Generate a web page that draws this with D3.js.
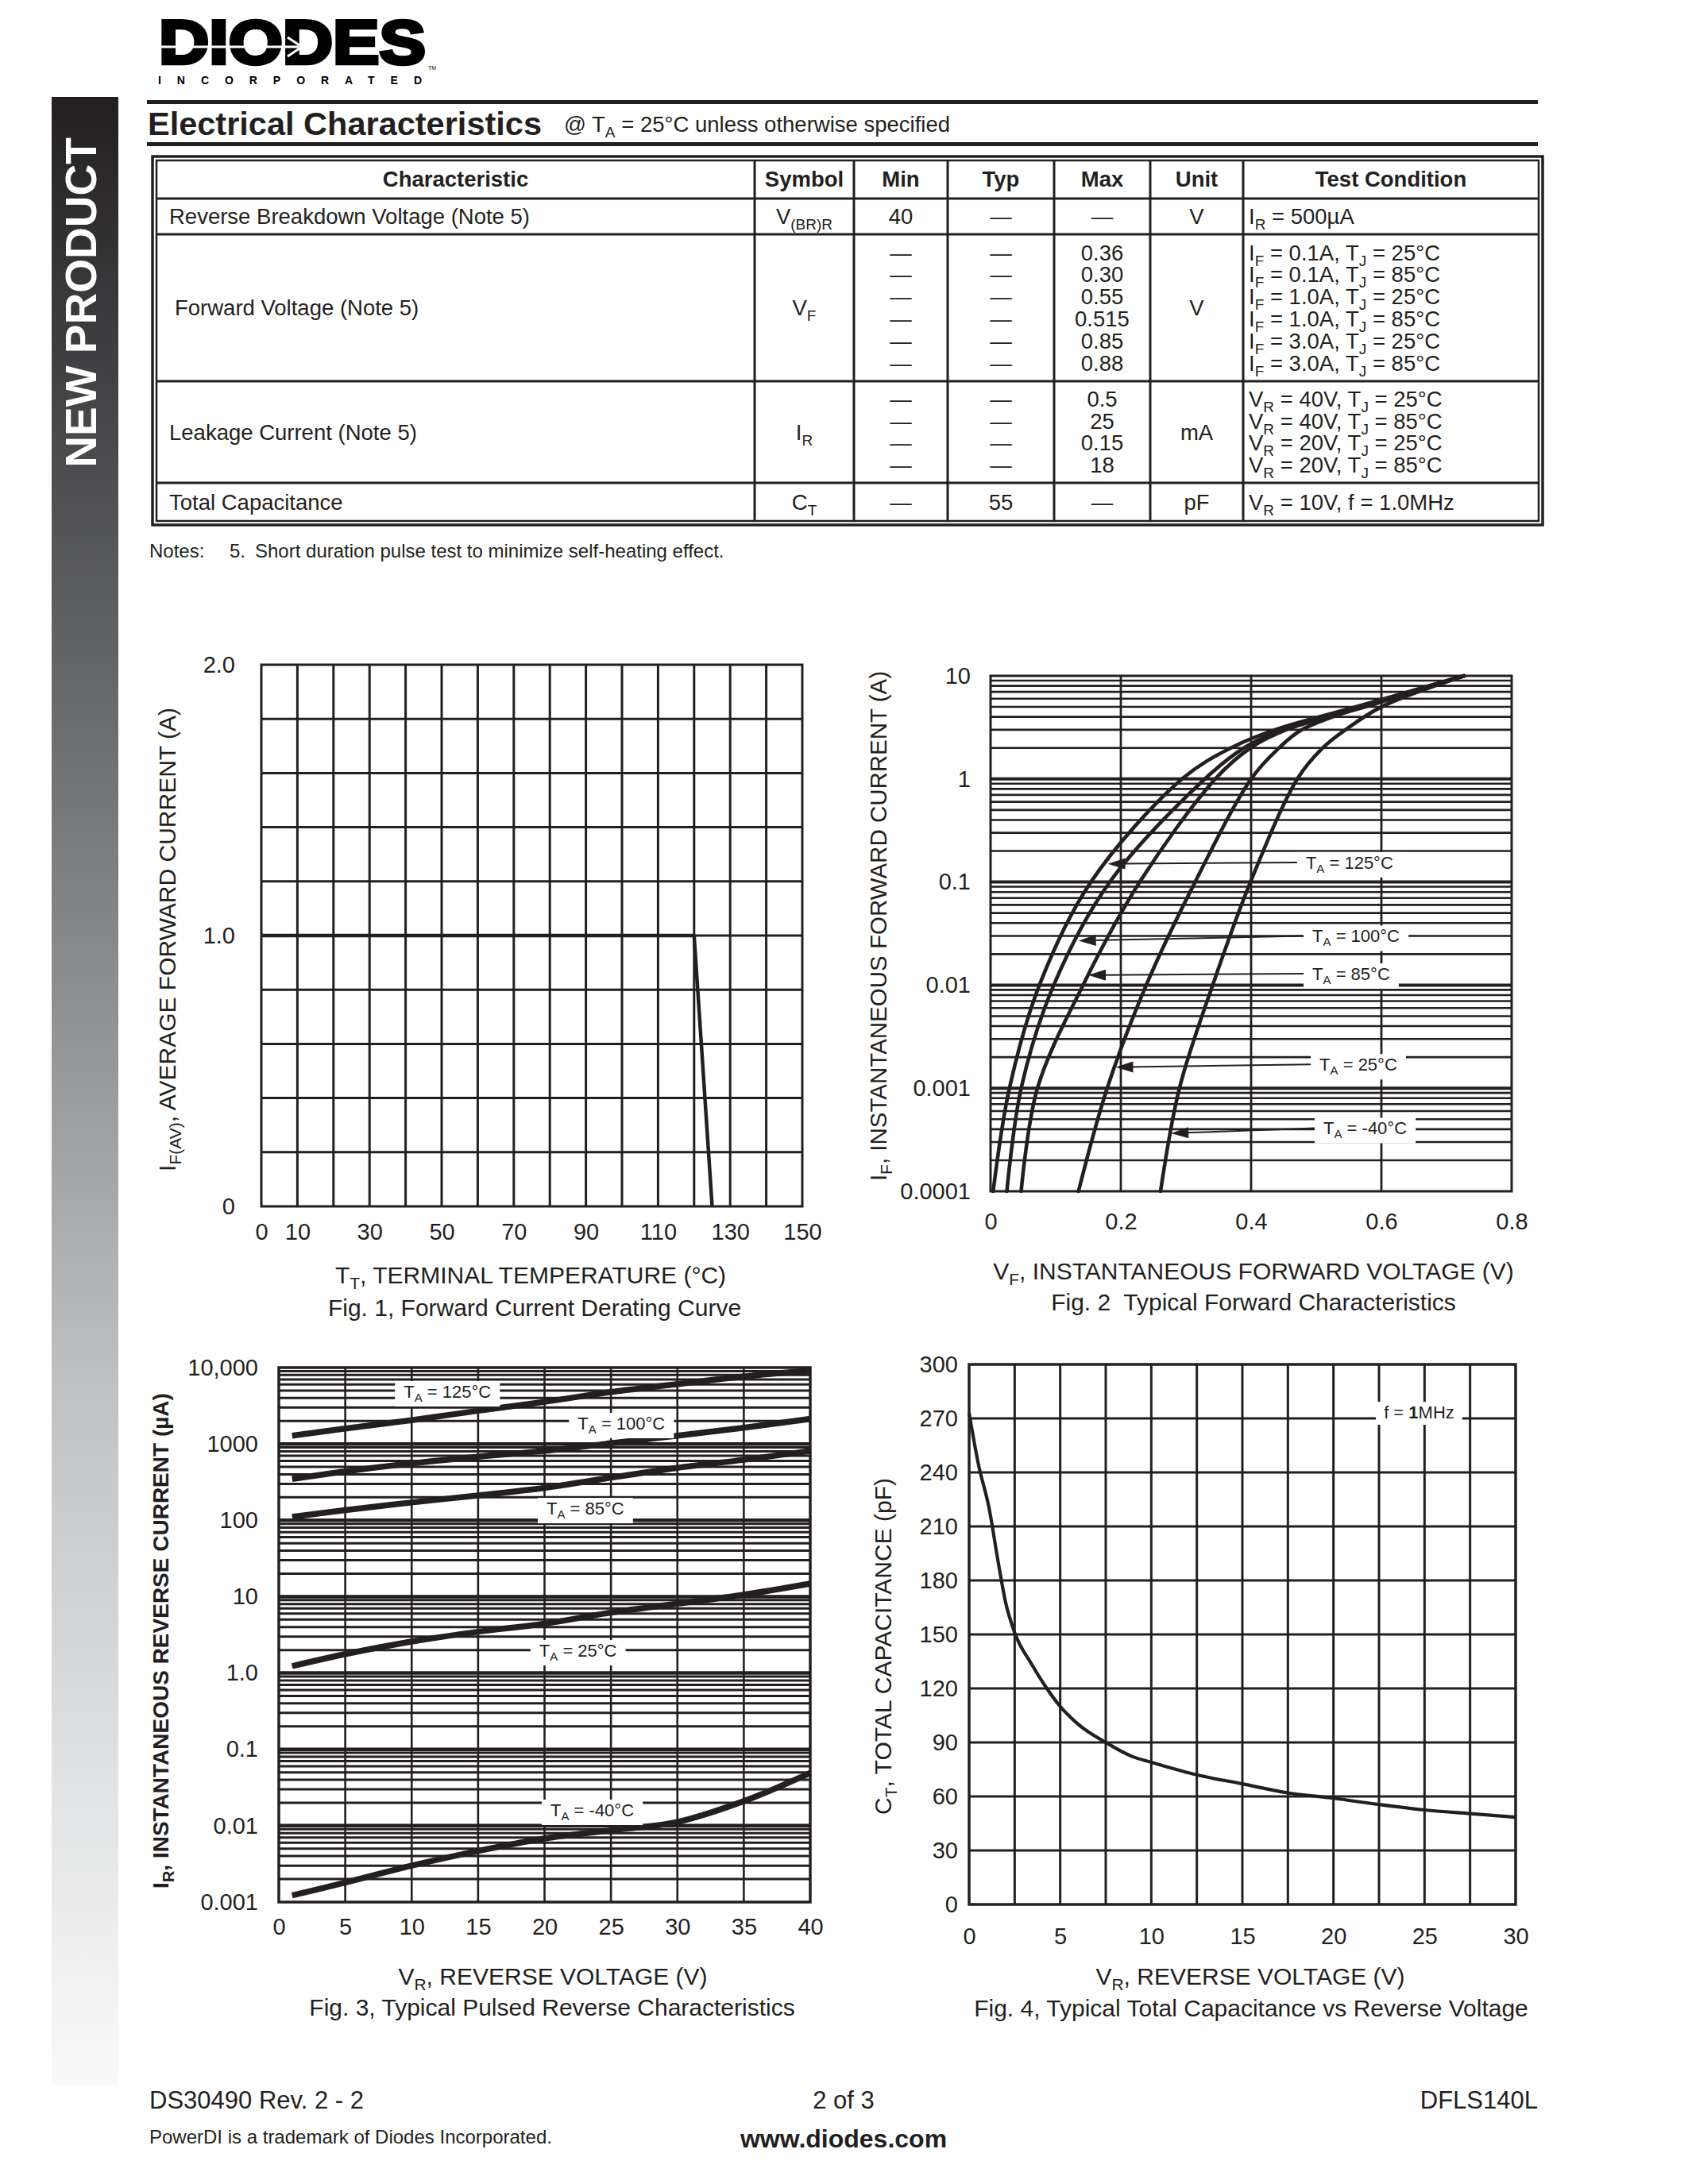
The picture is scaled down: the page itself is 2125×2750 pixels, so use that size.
<!DOCTYPE html>
<html>
<head>
<meta charset="utf-8">
<title>DFLS140L - Electrical Characteristics</title>
<script src="https://d3js.org/d3.v7.min.js"></script>
<style>
body { margin: 0; background: #fff; }
svg { font-family: "Liberation Sans", Arial, Helvetica, sans-serif; }
text { white-space: pre; }
</style>
</head>
<body>
<div id="page"></div>
<script>

/* ---- table data ---- */
var tableHeads = ["Characteristic", "Symbol", "Min", "Typ", "Max", "Unit", "Test Condition"];
var charNames = ["Reverse Breakdown Voltage (Note 5)", "Forward Voltage (Note 5)", "Leakage Current (Note 5)", "Total Capacitance"];
var charSymbols = ["V{(BR)R}", "V{F}", "I{R}", "C{T}"];
var minVals = [["40"], ["—", "—", "—", "—", "—", "—"], ["—", "—", "—", "—"], ["—"]];
var typVals = [["—"], ["—", "—", "—", "—", "—", "—"], ["—", "—", "—", "—"], ["55"]];
var maxVals = [["—"], ["0.36", "0.30", "0.55", "0.515", "0.85", "0.88"], ["0.5", "25", "0.15", "18"], ["—"]];
var units = ["V", "V", "mA", "pF"];
var testConds = [
  ["I{R} = 500µA"],
  ["I{F} = 0.1A, T{J} = 25°C", "I{F} = 0.1A, T{J} = 85°C", "I{F} = 1.0A, T{J} = 25°C",
   "I{F} = 1.0A, T{J} = 85°C", "I{F} = 3.0A, T{J} = 25°C", "I{F} = 3.0A, T{J} = 85°C"],
  ["V{R} = 40V, T{J} = 25°C", "V{R} = 40V, T{J} = 85°C", "V{R} = 20V, T{J} = 25°C", "V{R} = 20V, T{J} = 85°C"],
  ["V{R} = 10V, f = 1.0MHz"]
];

/* ---- Fig 1: derating ---- */
var fig1Temp = [0, 120, 125];
var fig1Current = [1.0, 1.0, 0];
var fig1XTicks = [0, 10, 30, 50, 70, 90, 110, 130, 150];
var fig1YTicks = [0, 1.0, 2.0];

/* ---- Fig 2: forward characteristics (V at each current) ---- */
var fig2Current = [0.0001, 0.001, 0.01, 0.1, 1, 2, 3, 5, 10];
var fig2Vf125 = [0.004, 0.029, 0.075, 0.154, 0.294, 0.369, 0.437, 0.561, 0.727];
var fig2Vf100 = [0.025, 0.047, 0.097, 0.183, 0.329, 0.389, 0.447, 0.568, 0.727];
var fig2Vf85 = [0.047, 0.072, 0.142, 0.229, 0.345, 0.399, 0.454, 0.575, 0.727];
var fig2Vf25 = [0.135, 0.179, 0.239, 0.314, 0.400, 0.443, 0.478, 0.570, 0.727];
var fig2VfM40 = [0.261, 0.290, 0.341, 0.399, 0.471, 0.510, 0.545, 0.600, 0.727];
var fig2Names = ["125", "100", "85", "25", "-40"];
var fig2TipV = [0.180, 0.135, 0.150, 0.192, 0.277];
var fig2TipI = [0.15, 0.027, 0.0125, 0.0016, 0.000365];
var fig2TextV = [0.484, 0.494, 0.494, 0.505, 0.511];
var fig2TextI = [0.155, 0.030, 0.0129, 0.0017, 0.00041];
var fig2XTicks = [0, 0.2, 0.4, 0.6, 0.8];
var fig2YTicks = [0.0001, 0.001, 0.01, 0.1, 1, 10];
var fig2YLabels = ["0.0001", "0.001", "0.01", "0.1", "1", "10"];

/* ---- Fig 3: reverse characteristics (uA) ---- */
var fig3Voltage = [1, 5, 10, 15, 20, 25, 30, 35, 40];
var fig3Ir125 = [1280, 1590, 2050, 2720, 3560, 4780, 6080, 7640, 9100];
var fig3Ir100 = [348, 437, 557, 681, 811, 1020, 1280, 1630, 2130];
var fig3Ir85 = [111, 136, 171, 212, 266, 362, 487, 620, 811];
var fig3Ir25 = [1.23, 1.77, 2.58, 3.47, 4.42, 6.18, 8.09, 10.6, 14.8];
var fig3IrM40 = [0.00122, 0.0018, 0.00300, 0.00468, 0.0068, 0.00870, 0.0112, 0.0210, 0.0491];
var fig3Names = ["125", "100", "85", "25", "-40"];
var fig3TextV = [9.4, 22.5, 20.15, 19.6, 20.45];
var fig3TextI = [4875, 1870, 144, 1.98, 0.0161];
var fig3XTicks = [0, 5, 10, 15, 20, 25, 30, 35, 40];
var fig3YTicks = [0.001, 0.01, 0.1, 1, 10, 100, 1000, 10000];
var fig3YLabels = ["0.001", "0.01", "0.1", "1.0", "10", "100", "1000", "10,000"];

/* ---- Fig 4: capacitance ---- */
var fig4Voltage = [0, 0.5, 1.1, 1.6, 2, 2.5, 3.4, 4.2, 5, 6, 7.5, 9, 10, 12.5, 15, 17.5, 20, 22.5, 25, 27.5, 30];
var fig4Cap = [273, 245, 220, 190, 168, 151, 134, 121, 110, 100, 90, 82, 79, 72, 67, 62, 59, 55.5, 52.5, 50.5, 48.5];
var fig4XTicks = [0, 5, 10, 15, 20, 25, 30];
var fig4YTicks = [0, 30, 60, 90, 120, 150, 180, 210, 240, 270, 300];

var W = 2125, H = 2750, ink = "#231f20";

var svg = d3.select("#page").append("svg")
  .attr("width", W).attr("height", H);
svg.append("rect").attr("width", W).attr("height", H).attr("fill", "#fff");

/* text with {subscript} parts */
function rich(t, str, subSize, shift) {
  var low = false;
  str.split(/(\{[^}]*\})/).forEach(function (s) {
    if (!s) return;
    if (s.charAt(0) === "{") {
      t.append("tspan").attr("font-size", subSize).attr("dy", low ? 0 : shift).text(s.slice(1, -1));
      low = true;
    } else {
      t.append("tspan").attr("dy", low ? -shift : 0).text(s);
      low = false;
    }
  });
  return t;
}

function label(g, x, y, str, size, opts) {
  opts = opts || {};
  var t = g.append("text")
    .attr("x", x).attr("y", y)
    .attr("font-size", size)
    .attr("fill", opts.fill || ink)
    .attr("text-anchor", opts.anchor || "start")
    .attr("font-weight", opts.bold ? "bold" : null);
  if (opts.rotate) t.attr("transform", `rotate(-90 ${x} ${y})`);
  return rich(t, str, Math.round(size * 0.7), Math.round(size * 0.24));
}

/* ---- side bar ---- */
var grad = svg.append("defs").append("linearGradient")
  .attr("id", "side").attr("x1", 0).attr("y1", 0).attr("x2", 0).attr("y2", 1);
[[0, "#231f20"], [0.12, "#3d3d3f"], [0.27, "#606163"], [0.44, "#8b8c8e"],
 [0.65, "#c0c1c2"], [0.86, "#e3e4e5"], [1, "#f9f9f9"]].forEach(function (s) {
  grad.append("stop").attr("offset", s[0]).attr("stop-color", s[1]);
});
svg.append("rect").attr("x", 65).attr("y", 122).attr("width", 84).attr("height", 2503)
  .attr("fill", "url(#side)");
svg.append("text")
  .attr("transform", "translate(121,381) rotate(-90)")
  .attr("text-anchor", "middle")
  .attr("font-size", 55).attr("font-weight", "bold").attr("fill", "#fff")
  .text("NEW PRODUCT");

/* ---- logo ---- */
var logo = svg.append("g");
logo.append("text")
  .attr("x", 200).attr("y", 80)
  .attr("font-size", 78).attr("font-weight", "bold")
  .attr("textLength", 336).attr("lengthAdjust", "spacingAndGlyphs")
  .attr("fill", "#000").attr("stroke", "#000").attr("stroke-width", 4.5)
  .text("DIODES");
logo.append("line").attr("x1", 203).attr("x2", 376).attr("y1", 59).attr("y2", 59)
  .attr("stroke", "#fff").attr("stroke-width", 3);
logo.append("path").attr("d", "M362,47 L380,59 L362,71")
  .attr("fill", "none").attr("stroke", "#fff").attr("stroke-width", 3);
logo.append("text").attr("x", 539).attr("y", 88).attr("font-size", 7).text("TM");
logo.append("text")
  .attr("x", 199).attr("y", 106)
  .attr("font-size", 14).attr("font-weight", "bold")
  .attr("textLength", 332).attr("lengthAdjust", "spacing")
  .text("INCORPORATED");

/* ---- section header ---- */
svg.append("line").attr("x1", 185).attr("x2", 1936).attr("y1", 128.5).attr("y2", 128.5)
  .attr("stroke", ink).attr("stroke-width", 5);
svg.append("line").attr("x1", 185).attr("x2", 1936).attr("y1", 181.5).attr("y2", 181.5)
  .attr("stroke", ink).attr("stroke-width", 5);
svg.append("text").attr("x", 186).attr("y", 170)
  .attr("font-size", 41.5).attr("font-weight", "bold").attr("fill", ink)
  .text("Electrical Characteristics");
label(svg, 710, 166, "@ T{A} = 25°C unless otherwise specified", 27.5);

/* ---- table ---- */
var colX = [197, 950, 1075, 1193, 1327, 1448, 1565, 1937];
var rowY = [202, 250, 295, 480, 608, 656];
var lineH = 27.8, tFont = 27.5;
var tbl = svg.append("g");
tbl.append("rect").attr("x", 192).attr("y", 197).attr("width", 1750).attr("height", 464)
  .attr("fill", "none").attr("stroke", ink).attr("stroke-width", 3.5);
tbl.append("rect").attr("x", 197).attr("y", 202).attr("width", 1740).attr("height", 454)
  .attr("fill", "none").attr("stroke", ink).attr("stroke-width", 2.5);
tbl.selectAll("line.rowl").data(rowY.slice(1, 5)).join("line").attr("class", "rowl")
  .attr("x1", 197).attr("x2", 1937).attr("y1", d => d).attr("y2", d => d)
  .attr("stroke", ink).attr("stroke-width", 3);
tbl.selectAll("line.coll").data(colX.slice(1, 7)).join("line").attr("class", "coll")
  .attr("y1", 202).attr("y2", 656).attr("x1", d => d).attr("x2", d => d)
  .attr("stroke", ink).attr("stroke-width", 3);

function colCenter(i) { return (colX[i] + colX[i + 1]) / 2; }

tableHeads.forEach(function (h, i) {
  tbl.append("text").attr("x", colCenter(i)).attr("y", 235)
    .attr("text-anchor", "middle").attr("font-size", tFont).attr("font-weight", "bold")
    .attr("fill", ink).text(h);
});

charNames.forEach(function (name, r) {
  var mid = (rowY[r + 1] + rowY[r + 2]) / 2;
  var base = mid + 9.5;
  label(tbl, r === 1 ? 220 : 213, base, name, tFont);
  label(tbl, colCenter(1), base, charSymbols[r], tFont, { anchor: "middle" });
  label(tbl, colCenter(5), base, units[r], tFont, { anchor: "middle" });
  [minVals[r], typVals[r], maxVals[r]].forEach(function (vals, c) {
    var n = vals.length;
    vals.forEach(function (v, k) {
      var y = mid + (k - (n - 1) / 2) * lineH + 9.5;
      label(tbl, colCenter(c + 2), y, v, tFont, { anchor: "middle" });
    });
  });
  var conds = testConds[r];
  conds.forEach(function (v, k) {
    var y = mid + (k - (conds.length - 1) / 2) * lineH + 9.5;
    label(tbl, 1572, y, v, tFont);
  });
});

var notes = svg.append("text").attr("y", 702).attr("font-size", 24).attr("fill", ink);
notes.append("tspan").attr("x", 188).text("Notes:");
notes.append("tspan").attr("x", 289).text("5.");
notes.append("tspan").attr("x", 321).text("Short duration pulse test to minimize self-heating effect.");

/* ---- chart helpers ---- */
function axisText(g, axis, tx, ty) {
  var a = g.append("g").attr("transform", `translate(${tx},${ty})`).call(axis);
  a.select(".domain").remove();
  a.attr("font-size", 29).attr("font-family", null);
  a.selectAll("text").attr("fill", ink);
  return a;
}
function isDecade(d) {
  var l = Math.log10(d);
  return Math.abs(l - Math.round(l)) < 1e-6;
}
function boxedLabel(boxG, textG, x, y, str, size) {
  var t = label(textG, x, y, str, size);
  var b = t.node().getBBox();
  boxG.append("rect").attr("x", b.x - 11).attr("y", b.y - 1)
    .attr("width", b.width + 22).attr("height", b.height + 4).attr("fill", "#fff");
  return b;
}

/* ---- Fig 1 ---- */
var f1 = svg.append("g");
var x1 = d3.scaleLinear().domain([0, 150]).range([329, 1010]);
var y1 = d3.scaleLinear().domain([0, 2]).range([1519, 837]);
f1.selectAll("line.vg").data(d3.range(10, 150, 10)).join("line").attr("class", "vg")
  .attr("x1", d => x1(d)).attr("x2", d => x1(d)).attr("y1", y1(0)).attr("y2", y1(2))
  .attr("stroke", ink).attr("stroke-width", 3);
f1.selectAll("line.hg").data(d3.range(1, 10).map(i => i * 0.2)).join("line").attr("class", "hg")
  .attr("y1", d => y1(d)).attr("y2", d => y1(d)).attr("x1", x1(0)).attr("x2", x1(150))
  .attr("stroke", ink).attr("stroke-width", 3);
f1.append("rect").attr("x", x1(0)).attr("y", y1(2))
  .attr("width", x1(150) - x1(0)).attr("height", y1(0) - y1(2))
  .attr("fill", "none").attr("stroke", ink).attr("stroke-width", 3);
f1.append("path").datum(d3.zip(fig1Temp, fig1Current))
  .attr("d", d3.line().x(d => x1(d[0])).y(d => y1(d[1])))
  .attr("fill", "none").attr("stroke", ink).attr("stroke-width", 4.5).attr("stroke-linejoin", "round");
axisText(f1, d3.axisBottom(x1).tickValues(fig1XTicks).tickFormat(d => d).tickSize(0).tickPadding(21), 0, y1(0));
axisText(f1, d3.axisLeft(y1).tickValues(fig1YTicks).tickFormat(d => d === 0 ? "0" : d.toFixed(1)).tickSize(0).tickPadding(33), x1(0), 0);
label(f1, 221, 1183, "I{F(AV)}, AVERAGE FORWARD CURRENT (A)", 30, { anchor: "middle", rotate: true });
label(f1, 668, 1616, "T{T}, TERMINAL TEMPERATURE (°C)", 30, { anchor: "middle" });
label(f1, 673, 1657, "Fig. 1, Forward Current Derating Curve", 30, { anchor: "middle" });

/* ---- Fig 2 ---- */
var f2 = svg.append("g");
var x2 = d3.scaleLinear().domain([0, 0.8]).range([1247, 1903]);
var y2 = d3.scaleLog().domain([0.0001, 10]).range([1500, 851]);
f2.selectAll("line.hg").data(y2.ticks().filter(d => d > 0.0001 && d < 10)).join("line").attr("class", "hg")
  .attr("y1", d => y2(d)).attr("y2", d => y2(d)).attr("x1", x2(0)).attr("x2", x2(0.8))
  .attr("stroke", ink).attr("stroke-width", d => isDecade(d) ? 4 : 2.6);
f2.selectAll("line.vg").data([0.2, 0.4, 0.6]).join("line").attr("class", "vg")
  .attr("x1", d => x2(d)).attr("x2", d => x2(d)).attr("y1", y2(0.0001)).attr("y2", y2(10))
  .attr("stroke", ink).attr("stroke-width", 2.8);
f2.append("rect").attr("x", x2(0)).attr("y", y2(10))
  .attr("width", x2(0.8) - x2(0)).attr("height", y2(0.0001) - y2(10))
  .attr("fill", "none").attr("stroke", ink).attr("stroke-width", 3);
var fig2Series = [fig2Vf125, fig2Vf100, fig2Vf85, fig2Vf25, fig2VfM40];
var line2 = d3.line().x(d => x2(d[0])).y(d => y2(d[1])).curve(d3.curveCatmullRom.alpha(0.5));
f2.selectAll("path.curve").data(fig2Series).join("path").attr("class", "curve")
  .attr("d", s => line2(d3.zip(s, fig2Current)))
  .attr("fill", "none").attr("stroke", ink).attr("stroke-width", 4.6).attr("stroke-linecap", "round");
var box2 = f2.append("g"), lead2 = f2.append("g"), txt2 = f2.append("g");
fig2Names.forEach(function (n, i) {
  var b = boxedLabel(box2, txt2, x2(fig2TextV[i]), y2(fig2TextI[i]) + 8, "T{A} = " + n + "°C", 22);
  var bx = b.x - 11, by = y2(fig2TextI[i]);
  var tx = x2(fig2TipV[i]), ty = y2(fig2TipI[i]);
  var ang = Math.atan2(by - ty, bx - tx), ca = Math.cos(ang), sa = Math.sin(ang);
  lead2.append("line").attr("x1", bx).attr("y1", by).attr("x2", tx + 18 * ca).attr("y2", ty + 18 * sa)
    .attr("stroke", ink).attr("stroke-width", 2);
  lead2.append("path")
    .attr("d", `M${tx},${ty} L${tx + 22 * ca - 7 * sa},${ty + 22 * sa + 7 * ca} L${tx + 22 * ca + 7 * sa},${ty + 22 * sa - 7 * ca} Z`)
    .attr("fill", ink);
});
axisText(f2, d3.axisBottom(x2).tickValues(fig2XTicks).tickFormat(d => d === 0 ? "0" : d.toFixed(1)).tickSize(0).tickPadding(27), 0, y2(0.0001));
axisText(f2, d3.axisLeft(y2).tickValues(fig2YTicks).tickFormat((d, i) => fig2YLabels[i]).tickSize(0).tickPadding(25), x2(0), 0);
label(f2, 1116, 1166, "I{F}, INSTANTANEOUS FORWARD CURRENT (A)", 29.5, { anchor: "middle", rotate: true });
label(f2, 1578, 1611, "V{F}, INSTANTANEOUS FORWARD VOLTAGE (V)", 30, { anchor: "middle" });
label(f2, 1578, 1650, "Fig. 2  Typical Forward Characteristics", 30, { anchor: "middle" });

/* ---- Fig 3 ---- */
var f3 = svg.append("g");
var x3 = d3.scaleLinear().domain([0, 40]).range([351, 1020]);
var y3 = d3.scaleLog().domain([0.001, 10000]).range([2395, 1722]);
f3.selectAll("line.hg").data(y3.ticks().filter(d => d > 0.001 && d < 10000)).join("line").attr("class", "hg")
  .attr("y1", d => y3(d)).attr("y2", d => y3(d)).attr("x1", x3(0)).attr("x2", x3(40))
  .attr("stroke", ink).attr("stroke-width", d => isDecade(d) ? 4.5 : 3);
f3.selectAll("line.vg").data(d3.range(5, 40, 5)).join("line").attr("class", "vg")
  .attr("x1", d => x3(d)).attr("x2", d => x3(d)).attr("y1", y3(0.001)).attr("y2", y3(10000))
  .attr("stroke", ink).attr("stroke-width", 2.6);
f3.append("rect").attr("x", x3(0)).attr("y", y3(10000))
  .attr("width", x3(40) - x3(0)).attr("height", y3(0.001) - y3(10000))
  .attr("fill", "none").attr("stroke", ink).attr("stroke-width", 3.5);
var fig3Series = [fig3Ir125, fig3Ir100, fig3Ir85, fig3Ir25, fig3IrM40];
var line3 = d3.line().x(d => x3(d[0])).y(d => y3(d[1])).curve(d3.curveCatmullRom.alpha(0.5));
f3.selectAll("path.curve").data(fig3Series).join("path").attr("class", "curve")
  .attr("d", s => line3(d3.zip(fig3Voltage, s)))
  .attr("fill", "none").attr("stroke", ink).attr("stroke-width", 7.5);
var box3 = f3.append("g"), txt3 = f3.append("g");
fig3Names.forEach(function (n, i) {
  boxedLabel(box3, txt3, x3(fig3TextV[i]), y3(fig3TextI[i]) + 8, "T{A} = " + n + "°C", 22);
});
axisText(f3, d3.axisBottom(x3).tickValues(fig3XTicks).tickFormat(d => d).tickSize(0).tickPadding(20), 0, y3(0.001));
axisText(f3, d3.axisLeft(y3).tickValues(fig3YTicks).tickFormat((d, i) => fig3YLabels[i]).tickSize(0).tickPadding(26), x3(0), 0);
label(f3, 212, 2066, "I{R}, INSTANTANEOUS REVERSE CURRENT (µA)", 28, { anchor: "middle", rotate: true, bold: true });
label(f3, 696, 2499, "V{R}, REVERSE VOLTAGE (V)", 30, { anchor: "middle" });
label(f3, 695, 2538, "Fig. 3, Typical Pulsed Reverse Characteristics", 30, { anchor: "middle" });

/* ---- Fig 4 ---- */
var f4 = svg.append("g");
var x4 = d3.scaleLinear().domain([0, 30]).range([1220, 1908]);
var y4 = d3.scaleLinear().domain([0, 300]).range([2398, 1718]);
f4.selectAll("line.vg").data(d3.range(1, 12).map(i => i * 2.5)).join("line").attr("class", "vg")
  .attr("x1", d => x4(d)).attr("x2", d => x4(d)).attr("y1", y4(0)).attr("y2", y4(300))
  .attr("stroke", ink).attr("stroke-width", 3);
f4.selectAll("line.hg").data(d3.range(30, 300, 30)).join("line").attr("class", "hg")
  .attr("y1", d => y4(d)).attr("y2", d => y4(d)).attr("x1", x4(0)).attr("x2", x4(30))
  .attr("stroke", ink).attr("stroke-width", 3);
f4.append("rect").attr("x", x4(0)).attr("y", y4(300))
  .attr("width", x4(30) - x4(0)).attr("height", y4(0) - y4(300))
  .attr("fill", "none").attr("stroke", ink).attr("stroke-width", 3.5);
f4.append("path").datum(d3.zip(fig4Voltage, fig4Cap))
  .attr("d", d3.line().x(d => x4(d[0])).y(d => y4(d[1])).curve(d3.curveMonotoneX))
  .attr("fill", "none").attr("stroke", ink).attr("stroke-width", 4.2);
var box4 = f4.append("g"), txt4 = f4.append("g");
var fTxt = txt4.append("text").attr("x", x4(24.7)).attr("y", y4(273.5) + 8)
  .attr("text-anchor", "middle").attr("font-size", 22).attr("fill", ink);
fTxt.append("tspan").text("f = ");
fTxt.append("tspan").attr("font-weight", "bold").text("1");
fTxt.append("tspan").text("MHz");
var fb = fTxt.node().getBBox();
box4.append("rect").attr("x", fb.x - 10).attr("y", fb.y - 1).attr("width", fb.width + 20)
  .attr("height", fb.height + 4).attr("fill", "#fff");
axisText(f4, d3.axisBottom(x4).tickValues(fig4XTicks).tickFormat(d => d).tickSize(0).tickPadding(29), 0, y4(0));
axisText(f4, d3.axisLeft(y4).tickValues(fig4YTicks).tickFormat(d => d).tickSize(0).tickPadding(14), x4(0), 0);
label(f4, 1122, 2073, "C{T}, TOTAL CAPACITANCE (pF)", 30, { anchor: "middle", rotate: true });
label(f4, 1574, 2499, "V{R}, REVERSE VOLTAGE (V)", 30, { anchor: "middle" });
label(f4, 1575, 2539, "Fig. 4, Typical Total Capacitance vs Reverse Voltage", 30, { anchor: "middle" });

/* ---- footer ---- */
svg.append("text").attr("x", 188).attr("y", 2655).attr("font-size", 31).attr("fill", ink).text("DS30490 Rev. 2 - 2");
svg.append("text").attr("x", 1062).attr("y", 2655).attr("font-size", 31).attr("fill", ink)
  .attr("text-anchor", "middle").text("2 of 3");
svg.append("text").attr("x", 1936).attr("y", 2655).attr("font-size", 31).attr("fill", ink)
  .attr("text-anchor", "end").text("DFLS140L");
svg.append("text").attr("x", 188).attr("y", 2699).attr("font-size", 24).attr("fill", ink)
  .text("PowerDI is a trademark of Diodes Incorporated.");
svg.append("text").attr("x", 1062).attr("y", 2704).attr("font-size", 32).attr("font-weight", "bold")
  .attr("fill", ink).attr("text-anchor", "middle").text("www.diodes.com");

</script>
</body>
</html>
